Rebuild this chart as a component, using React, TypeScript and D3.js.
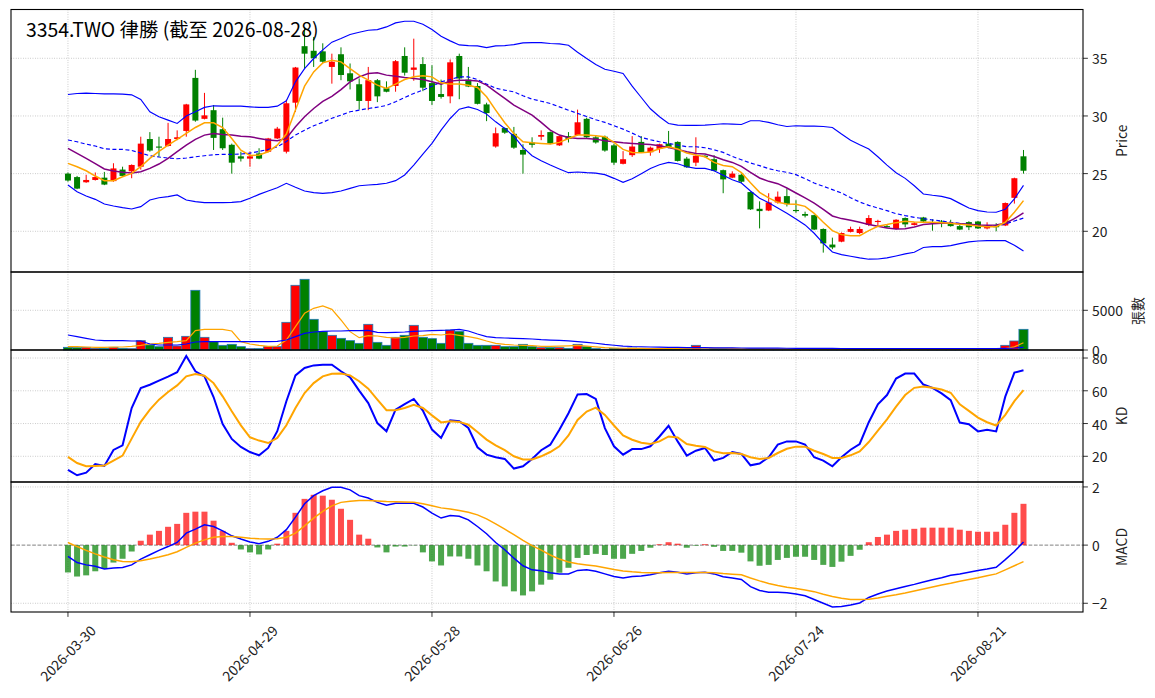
import React from 'react';
import * as d3 from 'd3';

const title = '3354.TWO 律勝 (截至 2026-08-28)';
const tickIdx = [0, 20, 40, 60, 80, 100];
const tickLabels = ['2026-03-30', '2026-04-29', '2026-05-28', '2026-06-26', '2026-07-24', '2026-08-21'];

const opens = [25.0,24.7,24.25,24.45,24.65,24.35,25.35,25.2,25.6,28.0,
27.35,27.4,28.0,28.7,33.3,29.75,30.5,28.85,27.5,26.5,
26.3,26.75,26.9,28.05,26.9,31.15,36.05,35.65,35.6,34.25,
35.35,33.7,32.75,31.3,33.1,32.4,32.6,35.2,34.0,34.5,
32.85,31.9,31.7,35.2,33.15,32.6,31.0,27.35,28.95,28.45,
27.05,27.7,28.2,28.6,27.45,28.25,28.35,29.75,28.15,28.2,
27.45,25.85,26.6,27.75,26.85,27.15,27.6,27.75,26.3,25.95,
26.55,26.25,25.3,24.65,24.9,23.4,21.95,21.8,22.5,23.05,
21.85,21.5,21.4,20.2,18.85,19.1,19.95,19.85,20.55,20.8,
20.45,20.2,21.15,20.55,21.2,20.8,20.85,20.65,20.45,20.8,
20.85,20.25,20.5,20.5,22.9,26.5];
const highs = [25.1,24.8,24.9,25.1,25.15,25.9,25.6,25.8,28.2,28.6,
28.2,29.4,28.75,31.05,34.0,32.0,30.95,29.85,27.6,26.9,
26.9,27.2,28.1,29.05,31.4,34.25,37.7,36.85,36.3,35.4,
35.95,34.55,33.25,34.25,33.2,33.0,34.85,35.95,36.7,35.1,
34.4,33.15,34.9,35.4,34.25,32.85,31.15,29.0,29.0,29.05,
27.55,28.15,28.75,28.65,28.3,28.6,30.55,29.85,28.35,28.3,
27.6,26.95,28.25,28.25,27.35,27.6,28.7,27.8,26.45,28.15,
26.6,26.6,25.35,25.2,25.0,23.45,22.6,23.3,23.45,23.7,
22.7,21.7,21.45,20.25,19.45,19.9,20.4,20.4,21.4,21.0,
20.55,21.05,21.2,20.8,21.25,21.05,20.98,21.0,20.55,20.87,
20.9,20.78,20.7,22.5,24.65,27.05];
const lows = [24.3,23.65,24.2,24.4,24.0,24.3,24.75,24.6,25.35,26.9,
26.45,27.35,27.9,28.2,29.5,29.7,27.05,27.05,25.0,26.05,
25.6,26.25,26.85,28.0,26.75,30.35,34.1,34.25,34.55,32.8,
33.1,32.3,30.55,30.5,31.2,32.05,32.1,33.5,33.05,32.15,
30.95,31.5,31.1,31.45,32.5,31.0,29.55,27.25,28.45,27.15,
25.0,27.25,27.9,27.55,27.4,27.7,28.3,28.1,27.6,26.9,
25.75,25.8,26.45,26.8,26.55,26.8,27.2,26.05,25.5,25.65,
26.4,25.2,23.3,24.6,24.2,21.85,20.25,21.75,22.4,22.15,
21.6,21.2,20.1,18.15,18.45,19.05,19.9,19.75,20.45,20.45,
20.3,20.15,20.35,20.5,20.8,20.05,20.35,20.4,20.1,20.1,
20.2,20.17,20.0,20.45,22.4,25.0];
const closes = [24.4,23.7,24.45,24.7,24.05,25.45,24.8,25.75,27.6,27.0,
27.25,28.0,28.15,31.0,29.6,30.05,28.1,27.2,25.95,26.3,
26.5,26.3,28.05,28.9,31.1,34.2,35.4,35.0,34.7,34.7,
33.55,33.0,31.3,33.1,31.7,32.1,34.75,33.75,34.2,32.45,
31.3,31.65,34.65,33.25,32.55,31.05,30.25,28.5,28.55,27.25,
26.65,27.5,28.35,27.6,28.25,28.0,29.45,28.15,27.7,27.0,
25.95,26.25,27.35,26.85,27.25,27.55,27.3,26.1,25.55,26.55,
26.45,25.25,24.5,25.0,24.3,21.9,21.75,22.5,23.0,22.35,
21.75,21.35,20.15,18.95,18.6,19.85,20.2,20.2,21.15,20.9,
20.35,21.0,20.6,20.7,20.85,20.7,20.75,20.45,20.15,20.35,
20.25,20.4,20.35,22.45,24.6,25.25];

const bbUpper = [31.86,31.95,31.98,31.95,31.92,31.92,31.89,31.83,31.43,30.36,
29.93,29.64,29.35,29.99,30.36,30.74,30.88,30.85,30.85,30.85,
30.79,30.74,30.74,30.85,31.31,32.96,34.11,34.98,35.73,36.4,
36.71,37.06,37.26,37.43,37.49,37.72,38.07,38.21,38.21,37.95,
37.49,36.91,36.51,36.16,36.10,36.08,35.93,36.08,36.10,36.19,
36.33,36.36,36.36,36.28,36.25,36.13,35.53,34.98,34.47,34.05,
33.88,33.68,32.58,31.6,30.62,29.93,29.35,29.21,29.18,29.18,
29.21,29.26,29.32,29.29,29.26,29.58,29.58,29.44,29.24,29.09,
29.15,29.12,29.12,29.09,29.0,28.43,27.9,27.5,27.13,26.46,
25.74,25.08,24.59,23.95,23.23,23.12,23.03,22.83,22.42,22.02,
21.79,21.67,21.65,21.9,22.8,23.98];
const bbMid = [27.91,27.76,27.56,27.39,27.16,27.1,27.1,27.01,26.78,26.55,
26.44,26.35,26.29,26.35,26.46,26.55,26.64,26.67,26.67,26.7,
26.78,26.93,27.1,27.33,27.79,28.34,28.77,29.15,29.45,29.8,
30.07,30.36,30.5,30.65,30.76,30.91,31.23,31.6,31.95,32.24,
32.58,32.96,33.16,33.39,33.39,33.16,32.76,32.41,32.24,32.09,
31.75,31.46,31.28,31.08,30.79,30.5,30.22,29.95,29.67,29.44,
29.15,28.86,28.51,28.14,27.94,27.76,27.62,27.47,27.33,27.33,
27.24,27.07,26.84,26.49,26.2,25.92,25.69,25.43,25.25,25.11,
24.91,24.56,24.18,23.9,23.61,23.32,22.91,22.54,22.25,22.02,
21.79,21.53,21.36,21.21,21.1,20.98,20.89,20.78,20.69,20.58,
20.49,20.43,20.46,20.63,20.89,21.15];
const bbLower = [24.01,23.43,23.06,22.77,22.37,22.19,22.05,21.93,22.14,22.71,
22.91,23.0,23.15,22.71,22.57,22.48,22.48,22.48,22.51,22.57,
22.86,23.2,23.49,23.78,24.16,23.81,23.49,23.35,23.29,23.35,
23.49,23.72,23.95,24.01,24.07,24.16,24.39,24.88,25.74,26.7,
27.62,28.77,29.78,30.59,30.79,30.56,30.16,29.49,28.92,28.25,
27.27,26.55,26.12,25.74,25.4,25.08,25.14,25.08,25.04,24.91,
24.59,24.24,24.56,24.99,25.45,25.77,25.97,25.86,25.6,25.45,
25.45,25.25,24.85,24.47,24.18,23.49,22.86,22.48,22.02,21.56,
21.07,20.55,19.83,18.96,18.21,17.98,17.84,17.69,17.58,17.6,
17.69,17.86,18.04,18.18,18.59,18.67,18.67,18.76,18.93,19.08,
19.16,19.19,19.19,19.19,18.79,18.3];
const ma5 = [25.89,25.6,25.25,24.79,24.39,24.39,24.73,25.02,25.6,26.32,
26.93,27.47,27.97,28.48,29.0,29.41,29.41,29.0,28.05,27.04,
26.58,26.61,26.9,27.47,28.43,30.51,32.58,33.82,34.6,34.83,
34.69,34.11,33.54,33.1,32.67,32.38,32.76,33.16,33.39,33.48,
33.39,32.87,32.76,32.76,32.67,32.47,31.66,30.51,29.41,28.48,
27.76,27.68,27.62,27.56,27.71,28.05,28.34,28.34,28.28,28.2,
27.71,27.1,26.84,26.81,26.87,27.16,27.33,27.13,26.78,26.61,
26.46,25.97,25.71,25.6,25.08,24.21,23.38,22.89,22.51,22.37,
22.34,22.16,21.56,20.78,20.06,19.71,19.62,19.62,20.06,20.43,
20.58,20.75,20.87,20.81,20.78,20.78,20.75,20.69,20.61,20.55,
20.46,20.4,20.4,20.78,21.65,22.66];
const ma10 = [27.19,26.75,26.32,25.86,25.4,25.22,25.11,25.05,25.17,25.45,
25.83,26.32,26.9,27.47,27.97,28.34,28.48,28.4,28.34,28.25,
28.2,28.05,27.91,27.85,28.05,29.06,29.93,30.65,31.26,31.7,
32.29,32.96,33.39,33.68,33.74,33.54,33.45,33.33,33.25,33.16,
32.96,32.76,33.02,33.1,33.1,33.04,32.67,32.09,31.52,30.94,
30.51,30.07,29.44,28.77,28.34,28.14,28.05,28.05,27.99,27.85,
27.76,27.68,27.62,27.56,27.53,27.42,27.27,27.1,26.9,26.75,
26.7,26.49,26.2,25.97,25.63,25.11,24.62,24.33,24.13,23.75,
23.32,22.89,22.45,21.9,21.33,21.1,20.95,20.78,20.58,20.43,
20.29,20.2,20.23,20.38,20.58,20.66,20.69,20.69,20.66,20.61,
20.55,20.52,20.55,20.69,21.1,21.59];

const volumes = [336,294,336,210,210,336,210,168,1176,630,
420,1596,504,1722,7518,1596,1050,588,714,420,
168,168,420,420,3486,8148,8904,3864,2310,1848,
1470,1176,840,3234,966,588,1596,1848,3108,1596,
1428,840,2520,2352,840,588,588,588,420,420,
714,420,294,294,294,210,714,420,168,100,
210,168,252,210,168,168,168,168,126,588,
100,168,168,126,126,168,168,126,110,120,
100,90,120,140,110,100,90,90,110,90,
80,100,90,80,90,80,80,90,80,90,
80,80,90,588,1134,2604];
const volMa5 = [420,420,378,336,336,378,378,462,588,756,
840,966,1050,1176,2436,2604,2604,2604,2394,1050,
756,588,462,504,1260,2940,4620,5250,5544,5124,
3780,2310,1554,1806,1764,1596,1512,1596,1764,1806,
1974,1890,2016,1848,1680,1470,1134,840,714,630,
588,546,462,462,480,520,580,480,400,300,
250,220,210,200,190,180,175,170,170,250,
240,230,220,200,150,140,140,140,130,130,
120,115,110,110,110,105,100,100,100,100,
95,95,95,90,90,90,90,90,90,90,
90,90,90,190,400,920];
const volMa20 = [1890,1680,1470,1260,1176,1176,1176,1134,1134,756,
630,630,630,756,1008,1050,1050,1050,1050,1050,
1050,1050,1050,1092,1260,1680,2100,2268,2352,2394,
2394,2436,2436,2478,2226,2184,2226,2268,2352,2394,
2436,2478,2520,2604,2394,2016,1680,1554,1512,1470,
1428,1386,1302,1250,1200,1150,1050,950,850,700,
600,500,440,410,380,360,340,320,310,300,
290,280,270,260,250,245,240,230,225,220,
215,210,205,200,195,190,185,180,175,170,
170,170,170,170,170,170,170,170,170,170,
170,170,170,200,250,340];

const kLine = [11.7,8.4,10.0,15.3,14.1,23.9,26.7,49.5,61.7,63.7,
66.2,68.6,71.3,81.2,71.9,68.8,56.2,39.7,30.6,25.7,
22.6,20.6,25.1,35.3,53.6,69.4,73.9,75.5,75.9,75.9,
71.9,68.2,60.1,52.5,40.3,35.3,48.5,51.9,55.0,47.9,
36.3,31.2,42.0,41.4,37.3,25.5,21.0,19.4,18.4,12.5,
13.9,18.4,23.7,27.1,36.2,46.3,57.8,58.0,55.0,37.2,
26.1,21.0,24.4,24.4,26.1,32.1,38.6,29.1,20.4,23.4,
25.1,17.4,19.0,22.6,21.4,14.5,15.6,19.4,27.1,29.1,
29.1,27.1,19.4,17.4,13.9,19.4,24.0,27.5,40.8,51.7,
57.4,67.5,70.5,70.5,63.8,61.8,58.4,54.3,40.6,39.6,
35.2,36.2,35.2,56.4,71.1,72.5];
const dLine = [19.6,15.9,13.9,14.1,14.3,17.4,20.4,30.8,41.0,48.5,
54.6,59.3,63.3,68.8,70.2,69.2,64.7,56.6,47.5,38.9,
31.6,29.6,28.1,31.2,38.9,49.5,58.6,64.7,68.8,70.4,
70.6,69.4,65.8,61.3,54.6,48.1,48.1,49.5,51.5,49.5,
45.0,40.7,41.4,41.0,39.3,34.8,30.2,26.7,23.7,20.0,
18.0,18.0,20.0,22.6,26.1,32.7,42.2,47.3,49.7,45.3,
38.8,32.7,30.1,28.3,27.5,29.1,32.1,31.5,27.5,26.5,
25.7,23.0,21.8,22.0,21.4,19.4,18.4,19.0,22.0,24.6,
25.9,25.9,23.4,21.4,19.0,19.0,20.6,23.0,28.7,35.6,
42.6,50.3,57.4,61.8,62.6,61.8,60.8,58.8,51.7,47.7,
43.6,40.8,38.8,45.3,53.7,60.4];

const macdHist = [-0.94,-1.08,-1.04,-0.90,-0.82,-0.60,-0.47,-0.22,0.15,0.36,
0.49,0.63,0.73,1.11,1.15,1.15,0.84,0.49,0.08,-0.15,
-0.25,-0.32,-0.15,0.05,0.49,1.11,1.59,1.73,1.70,1.56,
1.25,0.87,0.36,0.22,-0.08,-0.25,-0.05,-0.05,-0.01,-0.25,
-0.56,-0.70,-0.39,-0.39,-0.47,-0.70,-0.90,-1.25,-1.42,-1.59,
-1.73,-1.59,-1.36,-1.19,-0.95,-0.78,-0.44,-0.34,-0.30,-0.34,
-0.47,-0.47,-0.30,-0.20,-0.09,0.03,0.10,0.05,-0.09,-0.02,
0.03,-0.06,-0.20,-0.20,-0.26,-0.56,-0.71,-0.68,-0.51,-0.44,
-0.40,-0.40,-0.51,-0.68,-0.75,-0.57,-0.37,-0.16,0.10,0.28,
0.36,0.49,0.53,0.56,0.60,0.60,0.60,0.60,0.53,0.49,
0.46,0.46,0.46,0.70,1.11,1.42];
const macdDif = [-0.39,-0.60,-0.68,-0.73,-0.82,-0.79,-0.77,-0.68,-0.48,-0.33,
-0.18,-0.05,0.09,0.41,0.55,0.70,0.64,0.49,0.32,0.21,
0.11,0.05,0.13,0.27,0.53,0.96,1.42,1.70,1.87,1.99,
1.99,1.90,1.70,1.62,1.47,1.37,1.44,1.44,1.44,1.31,
1.10,0.93,1.02,0.99,0.87,0.64,0.39,0.09,-0.16,-0.45,
-0.71,-0.85,-0.88,-0.95,-0.99,-0.99,-0.87,-0.85,-0.90,-0.99,
-1.08,-1.13,-1.08,-1.06,-1.02,-0.95,-0.90,-0.93,-0.99,-0.95,
-0.93,-0.99,-1.09,-1.13,-1.18,-1.43,-1.56,-1.62,-1.62,-1.64,
-1.68,-1.74,-1.87,-2.00,-2.13,-2.11,-2.06,-1.99,-1.80,-1.68,
-1.58,-1.50,-1.42,-1.35,-1.27,-1.19,-1.12,-1.04,-0.99,-0.93,
-0.87,-0.82,-0.76,-0.50,-0.22,0.11];
const macdDea = [0.09,-0.05,-0.18,-0.30,-0.41,-0.50,-0.56,-0.57,-0.54,-0.48,
-0.41,-0.33,-0.23,-0.08,0.07,0.18,0.27,0.30,0.30,0.27,
0.24,0.22,0.21,0.22,0.27,0.41,0.66,0.93,1.16,1.35,
1.47,1.51,1.53,1.53,1.52,1.50,1.49,1.48,1.47,1.42,
1.35,1.28,1.24,1.19,1.13,1.04,0.90,0.73,0.55,0.36,
0.16,-0.02,-0.17,-0.34,-0.48,-0.58,-0.64,-0.68,-0.72,-0.78,
-0.84,-0.89,-0.92,-0.94,-0.95,-0.95,-0.94,-0.94,-0.94,-0.94,
-0.94,-0.95,-0.98,-1.00,-1.02,-1.13,-1.23,-1.32,-1.39,-1.45,
-1.49,-1.54,-1.60,-1.69,-1.77,-1.83,-1.87,-1.87,-1.86,-1.82,
-1.76,-1.71,-1.65,-1.58,-1.51,-1.44,-1.37,-1.31,-1.24,-1.18,
-1.12,-1.05,-0.99,-0.85,-0.71,-0.57];

const priceTicks = [20, 25, 30, 35];
const volTicks = [0, 5000];
const kdTicks = [20, 40, 60, 80];
const macdTicks = [-2, 0, 2];

const FONT = "'Noto Sans CJK TC', 'DejaVu Sans', sans-serif";
const L = 11, R = 1083;
const P = { top: 9.5, bottom: 272 };
const V = { top: 272, bottom: 350 };
const K = { top: 350, bottom: 482 };
const M = { top: 482, bottom: 612 };

const x = d3.scaleLinear().domain([-6.26, 111.54]).range([L, R]);
const yP = d3.scaleLinear().domain([16.47, 39.23]).range([P.bottom, P.top]);
const yV = d3.scaleLinear().domain([0, 9824]).range([V.bottom, V.top]);
const yK = d3.scaleLinear().domain([4.3, 84.9]).range([K.bottom, K.top]);
const yM = d3.scaleLinear().domain([-2.30, 2.17]).range([M.bottom, M.top]);

const mkLine = (ys: d3.ScaleLinear<number, number>) =>
  d3.line<number>().x((_, i) => x(i)).y((d) => ys(d));

const UP = '#ff0000';
const DOWN = '#008000';
const GRID = { stroke: '#b0b0b0', strokeWidth: 0.8, strokeDasharray: '0.8,1.6' };

function Grid({ ys, ticks, top, bottom }: any) {
  return (
    <g>
      {ticks.map((t: number) => (
        <line key={'h' + t} x1={L} x2={R} y1={ys(t)} y2={ys(t)} {...GRID} />
      ))}
      {tickIdx.map((t) => (
        <line key={'v' + t} x1={x(t)} x2={x(t)} y1={top} y2={bottom} {...GRID} />
      ))}
    </g>
  );
}

function RightAxis({ ys, ticks, fmt }: any) {
  return (
    <g>
      {ticks.map((t: number) => (
        <g key={t}>
          <line x1={R} x2={R + 4.9} y1={ys(t)} y2={ys(t)} stroke="#000" strokeWidth={0.8} />
          <text x={R + 9} y={ys(t)} dominantBaseline="central" fontSize={13.9} fill="#222" fontFamily={FONT}>
            {fmt ? fmt(t) : String(t)}
          </text>
        </g>
      ))}
    </g>
  );
}

function YLabel({ text, cx, cy }: any) {
  return (
    <text
      transform={`translate(${cx},${cy}) rotate(-90)`}
      textAnchor="middle"
      dominantBaseline="central"
      fontSize={13.9}
      fill="#222"
      fontFamily={FONT}
    >
      {text}
    </text>
  );
}

export default function App() {
  const idx = d3.range(closes.length);
  const bw = 6;
  const vbw = 9.1;
  const hw = 6;
  return (
    <svg
      width={1155}
      height={698}
      style={{ position: 'absolute', left: 0, top: 0, background: '#fff' }}
      xmlns="http://www.w3.org/2000/svg"
    >
      <rect x={0} y={0} width={1155} height={698} fill="#fff" />

      <Grid ys={yP} ticks={priceTicks} top={P.top} bottom={P.bottom} />
      <Grid ys={yV} ticks={[5000]} top={V.top} bottom={V.bottom} />
      <Grid ys={yK} ticks={kdTicks} top={K.top} bottom={K.bottom} />
      <Grid ys={yM} ticks={[-2, 2]} top={M.top} bottom={M.bottom} />

      <g>
        {idx.map((i) => {
          const o = opens[i], c = closes[i];
          const col = c >= o ? UP : DOWN;
          const yt = yP(Math.max(o, c));
          const yb = yP(Math.min(o, c));
          return (
            <g key={i}>
              <line x1={x(i)} x2={x(i)} y1={yP(highs[i])} y2={yP(lows[i])} stroke={col} strokeWidth={1} />
              <rect x={x(i) - bw / 2} y={yt} width={bw} height={Math.max(yb - yt, 0.8)} fill={col} />
            </g>
          );
        })}
        <path d={mkLine(yP)(bbUpper) || ''} fill="none" stroke="#0000ff" strokeWidth={1.15} />
        <path d={mkLine(yP)(bbLower) || ''} fill="none" stroke="#0000ff" strokeWidth={1.15} />
        <path d={mkLine(yP)(bbMid) || ''} fill="none" stroke="#0000ff" strokeWidth={1.15} strokeDasharray="4,2.5" />
        <path d={mkLine(yP)(ma10) || ''} fill="none" stroke="#800080" strokeWidth={1.5} />
        <path d={mkLine(yP)(ma5) || ''} fill="none" stroke="#ffa500" strokeWidth={1.5} />
        <text x={26} y={37} fontSize={19.4} fill="#000" fontFamily={FONT}>
          {title}
        </text>
      </g>

      <g>
        {idx.map((i) => {
          const col = closes[i] >= opens[i] ? UP : DOWN;
          const yt = yV(volumes[i]);
          return (
            <rect
              key={i}
              x={x(i) - vbw / 2}
              y={yt}
              width={vbw}
              height={V.bottom - yt}
              fill={col}
              stroke="#1f77b4"
              strokeWidth={0.8}
            />
          );
        })}
        <path d={mkLine(yV)(volMa5) || ''} fill="none" stroke="#ffa500" strokeWidth={1.2} />
        <path d={mkLine(yV)(volMa20) || ''} fill="none" stroke="#0000ff" strokeWidth={1.2} />
      </g>

      <g>
        <path d={mkLine(yK)(kLine) || ''} fill="none" stroke="#0000ff" strokeWidth={2} />
        <path d={mkLine(yK)(dLine) || ''} fill="none" stroke="#ffa500" strokeWidth={2} />
      </g>

      <g>
        <line x1={L} x2={R} y1={yM(0)} y2={yM(0)} stroke="#808080" strokeWidth={1} strokeDasharray="3.7,1.6" />
        {idx.map((i) => {
          const v = macdHist[i];
          const y0 = yM(0), y1 = yM(v);
          return (
            <rect
              key={i}
              x={x(i) - hw / 2}
              y={Math.min(y0, y1)}
              width={hw}
              height={Math.abs(y1 - y0)}
              fill={v >= 0 ? 'red' : 'green'}
              fillOpacity={0.7}
            />
          );
        })}
        <path d={mkLine(yM)(macdDif) || ''} fill="none" stroke="#0000ff" strokeWidth={1.5} />
        <path d={mkLine(yM)(macdDea) || ''} fill="none" stroke="#ffa500" strokeWidth={1.5} />
      </g>

      {[P, V, K, M].map((p, j) => (
        <rect key={j} x={L} y={p.top} width={R - L} height={p.bottom - p.top} fill="none" stroke="#000" strokeWidth={1.1} />
      ))}

      <RightAxis ys={yP} ticks={priceTicks} />
      <RightAxis ys={yV} ticks={volTicks} />
      <RightAxis ys={yK} ticks={kdTicks} />
      <RightAxis ys={yM} ticks={macdTicks} fmt={(t: number) => (t < 0 ? '\u2212' + Math.abs(t) : String(t))} />

      <YLabel text="Price" cx={1120.5} cy={(P.top + P.bottom) / 2} />
      <YLabel text="張數" cx={1137} cy={(V.top + V.bottom) / 2} />
      <YLabel text="KD" cx={1120.5} cy={(K.top + K.bottom) / 2} />
      <YLabel text="MACD" cx={1120.5} cy={(M.top + M.bottom) / 2} />

      {tickIdx.map((t, j) => (
        <g key={t}>
          <line x1={x(t)} x2={x(t)} y1={M.bottom} y2={M.bottom + 4.9} stroke="#000" strokeWidth={0.8} />
          <text
            transform={`translate(${x(t) + 3.7},${657}) rotate(-45)`}
            textAnchor="middle"
            fontSize={13.9}
            fill="#222"
            fontFamily={FONT}
          >
            {tickLabels[j]}
          </text>
        </g>
      ))}
    </svg>
  );
}
